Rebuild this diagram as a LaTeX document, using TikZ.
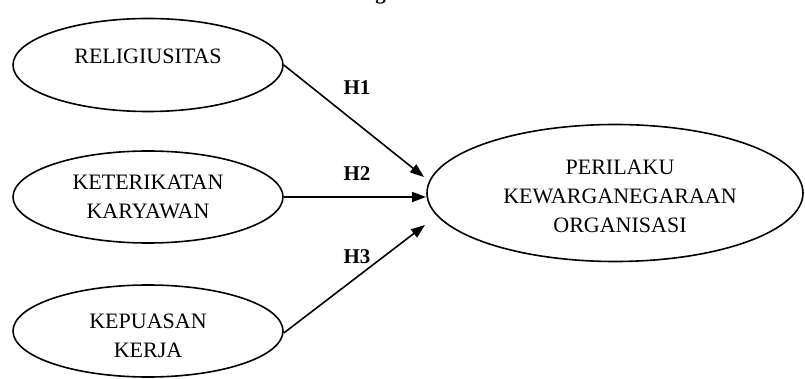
\documentclass[tikz,border=0pt]{standalone}
\usepackage{fontspec}
\setmainfont{Liberation Serif}
\usetikzlibrary{shapes.geometric,arrows.meta}
\begin{document}
\begin{tikzpicture}[x=1pt,y=-1pt,
  oval/.style={draw,ellipse,line width=1.6pt,inner sep=0pt},
  txt/.style={align=center,inner sep=0pt,font=\fontsize{22}{29}\selectfont},
  hlab/.style={inner sep=0pt,font=\fontsize{21}{24}\selectfont\bfseries},
  conn/.style={line width=1.6pt,-{Triangle[length=14pt,width=10pt]}}]
\useasboundingbox (0,0) rectangle (805,379);
\begin{scope}
\clip (0,0) rectangle (805,379);
\node[hlab,anchor=base west] (title) at (318,-0.5) {Kerangka Pemikiran};
% ellipses
\node[oval,minimum width=270pt,minimum height=93pt] (r) at (148,65) {};
\node[txt] (rt) at (148,56) {RELIGIUSITAS};
\node[oval,minimum width=270pt,minimum height=92pt] (k) at (148,197) {};
\node[txt] (kt) at (148,197) {KETERIKATAN\\KARYAWAN};
\node[oval,minimum width=270pt,minimum height=92pt] (q) at (148,331) {};
\node[txt] (qt) at (148,336) {KEPUASAN\\KERJA};
\node[oval,minimum width=376pt,minimum height=137pt] (p) at (615,193) {};
\node[txt] (pt) at (620,196) {PERILAKU\\KEWARGANEGARAAN\\ORGANISASI};
\end{scope}
\coordinate (t1) at (424,177);
\coordinate (t2) at (426,197);
\coordinate (t3) at (425,225);
\draw[conn] (r.east) -- (t1);
\draw[conn] (k.east) -- (t2);
\draw[conn] (q.east) ++(0,2) coordinate (qs) (qs) -- (t3);
\node[hlab] (h1) at (357,88) {H1};
\node[hlab] (h2) at (357,174) {H2};
\node[hlab] (h3) at (357,257) {H3};
\end{tikzpicture}
\end{document}
